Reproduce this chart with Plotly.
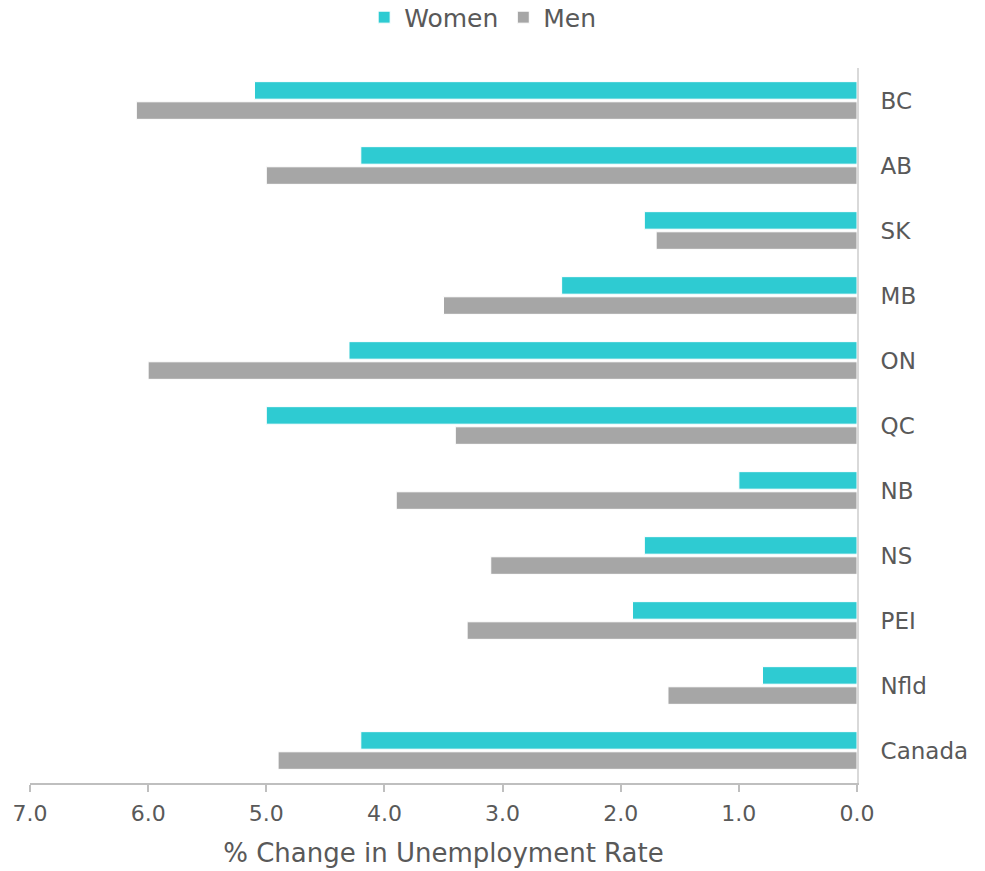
import plotly.graph_objects as go

regions = ["BC", "AB", "SK", "MB", "ON", "QC", "NB", "NS", "PEI", "Nfld", "Canada"]
women = [5.1, 4.2, 1.8, 2.5, 4.3, 5.0, 1.0, 1.8, 1.9, 0.8, 4.2]
men = [6.1, 5.0, 1.7, 3.5, 6.0, 3.4, 3.9, 3.1, 3.3, 1.6, 4.9]
x_ticks = [7, 6, 5, 4, 3, 2, 1, 0]

FONT = "DejaVu Sans"
TXT = "#595959"

fig = go.Figure()
fig.add_trace(go.Bar(y=regions, x=women, name="Women", orientation="h",
                     marker=dict(color="#2ECBD2", line=dict(color="white", width=1))))
fig.add_trace(go.Bar(y=regions, x=men, name="Men", orientation="h",
                     marker=dict(color="#A6A6A6", line=dict(color="white", width=1))))

fig.update_layout(
    width=985, height=871,
    margin=dict(l=30, r=128, t=68, b=88),
    paper_bgcolor="white", plot_bgcolor="white",
    barmode="group", bargap=0.38, bargroupgap=0.13,
    font=dict(family=FONT, color=TXT, size=21),
    legend=dict(orientation="h", xref="container", x=0.49, xanchor="center",
                yref="container", y=0.98, yanchor="middle",
                font=dict(size=25, color=TXT), itemwidth=30, traceorder="normal"),
    showlegend=True,
)
fig.update_xaxes(
    range=[7, 0], tickvals=x_ticks, tickformat=".1f",
    showgrid=False, zeroline=False, automargin=False,
    showline=True, linecolor="#BFBFBF", linewidth=2,
    ticks="outside", ticklen=7, tickcolor="#BFBFBF", tickwidth=2,
    tickfont=dict(size=22, color=TXT),
    ticklabelstandoff=3,
    title=dict(text="% Change in Unemployment Rate", font=dict(size=26, color=TXT), standoff=18),
)
fig.update_yaxes(
    categoryorder="array", categoryarray=regions, autorange="reversed",
    side="right", showgrid=False, zeroline=False, automargin=False,
    showline=True, linecolor="#D9D9D9", linewidth=2,
    ticks="", tickfont=dict(size=23, color=TXT), ticklabelstandoff=17,
)

fig.write_html("out.html")
